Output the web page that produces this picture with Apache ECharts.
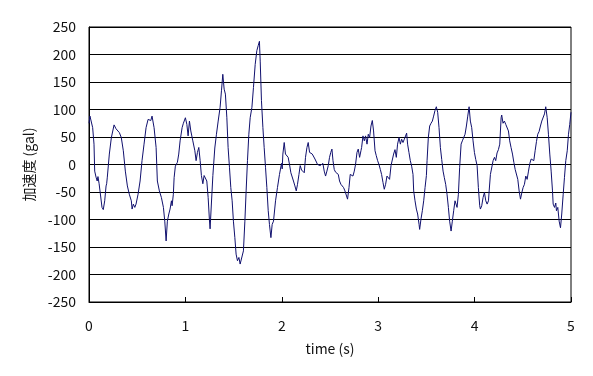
<!DOCTYPE html>
<html>
<head>
<meta charset="utf-8">
<script src="https://cdn.jsdelivr.net/npm/echarts@6/dist/echarts.min.js"></script>
<style>
html,body{margin:0;padding:0;background:#fff;}
#c{width:593px;height:376px;}
</style>
</head>
<body>
<div id="c"></div>
<script>
const timeS = [0,0.01,0.021,0.038,0.052,0.059,0.073,0.085,0.093,0.105,0.114,0.135,0.148,0.163,0.177,0.183,0.19,0.211,0.232,0.26,0.28,0.315,0.335,0.356,0.377,0.398,0.418,0.439,0.447,0.46,0.475,0.488,0.509,0.53,0.55,0.571,0.592,0.613,0.626,0.641,0.654,0.675,0.696,0.709,0.73,0.751,0.772,0.786,0.8,
0.813,0.828,0.841,0.855,0.862,0.875,0.883,0.896,0.917,0.931,0.945,0.966,0.979,1.0,1.015,1.028,1.042,1.056,1.077,1.098,1.111,1.125,1.139,1.153,1.166,1.181,1.194,1.208,1.222,1.236,1.249,1.256,1.27,1.285,1.305,1.322,1.34,1.36,1.374,1.388,1.402,1.408,1.415,1.43,1.443,1.457,1.471,1.485,1.498,1.513,1.526,1.54,1.555,1.568,1.586,1.602,1.617,1.63,1.644,1.658,1.672,1.69,1.706,1.724,1.741,1.755,1.768,1.776,1.789,1.804,1.817,1.831,1.845,1.859,1.872,1.887,1.9,1.914,1.935,1.955,1.976,1.997,
2.004,2.011,2.025,2.038,2.052,2.066,2.08,2.094,2.108,2.121,2.136,2.15,2.163,2.178,2.191,2.205,2.219,2.233,2.246,2.261,2.274,2.288,2.302,2.316,2.33,2.344,2.357,2.371,2.385,2.398,2.412,2.426,2.44,2.454,2.468,2.482,2.495,2.508,2.52,2.531,2.544,2.558,2.572,2.586,2.599,2.613,2.627,2.641,2.655,2.669,2.682,2.697,2.71,2.724,2.738,2.752,2.765,2.78,2.793,2.807,2.821,2.828,2.842,2.856,2.869,2.884,2.897,2.911,2.925,2.939,2.952,2.967,2.98,2.994,
3.008,3.022,3.035,3.05,3.063,3.077,3.091,3.105,3.118,3.133,3.147,3.16,3.174,3.188,3.201,3.216,3.23,3.243,3.257,3.271,3.284,3.295,3.305,3.319,3.333,3.347,3.361,3.368,3.382,3.396,3.409,3.424,3.43,3.444,3.458,3.472,3.486,3.5,3.507,3.52,3.534,3.548,3.562,3.575,3.589,3.603,3.617,3.631,3.645,3.659,3.673,3.686,3.7,3.714,3.728,3.741,3.756,3.769,3.783,3.797,3.811,3.818,3.832,3.845,3.86,3.873,3.887,3.901,3.915,3.929,3.943,3.956,3.97,3.984,3.998,
4.012,4.026,4.039,4.053,4.06,4.074,4.088,4.102,4.116,4.13,4.144,4.151,4.164,4.178,4.192,4.206,4.219,4.233,4.247,4.261,4.275,4.281,4.295,4.309,4.323,4.337,4.351,4.364,4.378,4.393,4.407,4.421,4.434,4.448,4.462,4.476,4.49,4.503,4.517,4.531,4.545,4.559,4.573,4.587,4.6,4.614,4.628,4.642,4.655,4.669,4.683,4.697,4.711,4.725,4.738,4.753,4.766,4.78,4.794,4.808,4.815,4.829,4.842,4.849,4.863,4.877,4.891,4.904,4.919,4.932,4.946,4.961,4.974,4.987,5.0];

const accelGal = [75,88,91,67,37,-12,-23,-30,-22,-35,-48,-78,-82,-66,-39,-35,-23,19,49,72,65,58,49,25,-12,-39,-54,-66,-81,-72,-78,-72,-54,-30,7,37,67,82,85,80,88,67,31,-30,-48,-60,-78,-103,-139,
-103,-90,-81,-66,-75,-54,-24,-3,4,19,43,67,75,85,73,52,79,61,43,25,7,22,31,7,-20,-35,-20,-22,-30,-60,-100,-117,-70,-20,30,55,79,104,134,164,137,140,128,85,31,-5,-42,-66,-103,-133,-163,-175,-169,-181,-184,-157,-103,-48,7,55,85,104,140,182,207,216,224,188,116,67,31,-5,-42,-84,-109,-133,-109,-103,-66,-42,-18,2,
-8,19,40,19,16,13,0,-15,-12,-30,-39,-48,-36,-18,-2,-10,-8,-15,13,31,40,22,25,19,21,10,7,0,3,-2,-5,2,-12,-21,-12,-2,13,22,28,7,-9,-14,-12,-18,-30,-36,-39,-42,-48,-51,-63,-42,-18,-15,-21,-12,0,22,28,13,25,31,52,43,52,37,55,49,70,80,61,25,16,7,
0,-9,-18,-33,-45,-36,-21,-24,-27,-2,0,19,27,13,37,49,37,46,40,46,48,57,37,22,7,-3,-18,-48,-66,-81,-90,-109,-118,-99,-84,-66,-42,-20,7,49,70,75,79,88,98,105,95,67,31,9,-12,-24,-36,-54,-78,-103,-121,-103,-84,-66,-69,-78,-54,-5,37,43,40,55,70,88,105,79,67,43,22,
9,-2,-42,-75,-81,-75,-60,-51,-66,-72,-66,-48,-18,-15,7,13,7,21,27,37,85,90,75,79,73,73,61,43,31,19,4,-9,-12,-27,-48,-63,-51,-42,-36,-21,-27,-12,2,10,13,7,25,42,55,60,70,79,82,92,105,85,55,19,-12,-48,-72,-78,-70,-84,-78,-103,-115,-90,-54,-24,7,25,55,73,95];

const yTicks = {min: -250, max: 250, step: 50};
const xTicks = {min: 0, max: 5, step: 1};

const seriesData = timeS.map((t, i) => [t, accelGal[i]]);

const chart = echarts.init(document.getElementById('c'), null, {renderer: 'canvas'});
const fontFam = '"Noto Sans CJK JP", "DejaVu Sans", sans-serif';
chart.setOption({
  animation: false,
  backgroundColor: '#ffffff',
  grid: {left: 89, top: 27, width: 482, height: 275, show: true, borderColor: '#000', borderWidth: 1, backgroundColor: 'transparent'},
  xAxis: {
    type: 'value', min: xTicks.min, max: xTicks.max, interval: xTicks.step,
    name: 'time (s)', nameLocation: 'middle', nameGap: 40,
    nameTextStyle: {color: '#111', fontSize: 14, fontFamily: fontFam},
    axisLine: {show: true, onZero: false, lineStyle: {color: '#000', width: 1}},
    axisTick: {show: true, inside: true, length: 5, lineStyle: {color: '#000'}},
    axisLabel: {color: '#111', fontSize: 14, fontFamily: fontFam, margin: 17},
    splitLine: {show: false}
  },
  yAxis: {
    type: 'value', min: yTicks.min, max: yTicks.max, interval: yTicks.step,
    name: '加速度 (gal)', nameLocation: 'middle', nameGap: 53, nameRotate: 90,
    nameTextStyle: {color: '#111', fontSize: 14, fontFamily: fontFam},
    axisLine: {show: true, lineStyle: {color: '#000', width: 1}},
    axisTick: {show: false},
    axisLabel: {color: '#111', fontSize: 14, fontFamily: fontFam, margin: 13},
    splitLine: {show: true, lineStyle: {color: '#000', width: 1}}
  },
  series: [{
    type: 'line', data: seriesData, showSymbol: false, symbol: 'none',
    lineStyle: {color: '#10106e', width: 1}, smooth: false
  }]
});
</script>
</body>
</html>
